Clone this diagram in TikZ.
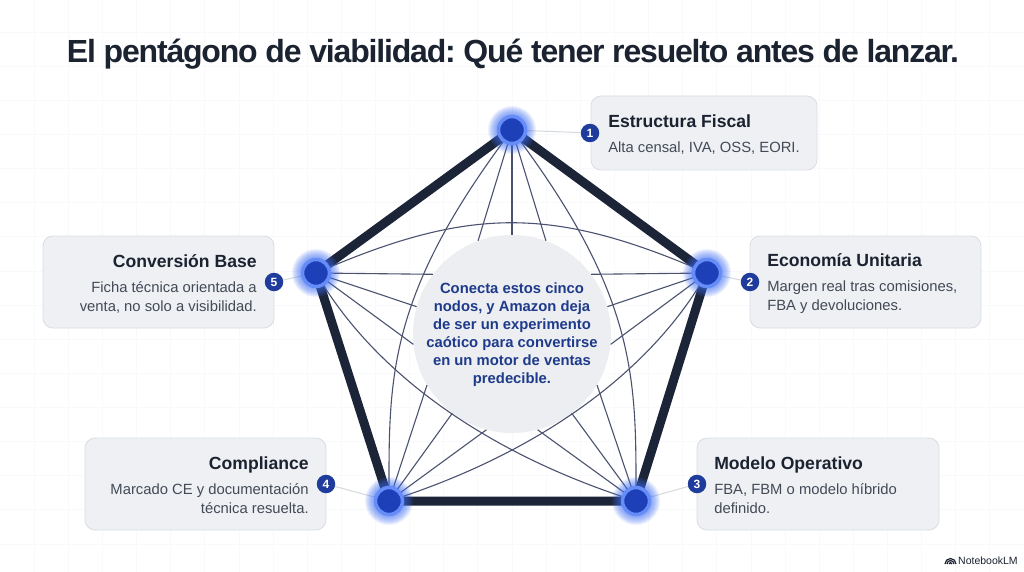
\documentclass[tikz,border=0pt]{standalone}
\usepackage{fontspec}
\setmainfont{Liberation Sans}
\frenchspacing
\definecolor{frame}{HTML}{1C2438}
\definecolor{thinline}{HTML}{4A5270}
\definecolor{leader}{HTML}{D6D9DE}
\definecolor{cardfill}{HTML}{EEF0F4}
\definecolor{cardline}{HTML}{D9DDE3}
\definecolor{hubfill}{HTML}{ECEEF1}
\definecolor{navy}{HTML}{1E3A8A}
\definecolor{badgeblue}{HTML}{1F3B9C}
\definecolor{core}{HTML}{1D3FB8}
\definecolor{halo}{HTML}{3F6FF5}
\definecolor{inktitle}{HTML}{1B2230}
\definecolor{inkbody}{HTML}{434A56}
\definecolor{paper}{HTML}{F8F9FA}
\tikzset{
  card/.style={draw=cardline,fill=cardfill,rounded corners=10pt,line width=0.8pt,inner sep=0pt},
  cardtext/.style={inner sep=0pt,yshift=-1.5pt,font=\fontsize{14.8}{19}\selectfont,text=inkbody},
  cardleft/.style={cardtext,align=left,anchor=west,xshift=17.5pt},
  cardright/.style={cardtext,align=right,anchor=east,xshift=-17.5pt},
  badge/.style={circle,fill=badgeblue,text=white,minimum size=18.5pt,inner sep=0pt,font=\fontsize{12}{12}\selectfont\bfseries},
  vertex/.style={circle,fill=core,draw=halo!80!white,line width=3.5pt,minimum size=27pt,inner sep=0pt},
  rim/.style={thinline,line width=1.1pt},
  edge/.style={frame,line width=9pt},
  leaderline/.style={leader,line width=1pt},
  gridline/.style={paper,line width=0.7pt},
}
\newcommand{\cardtitle}[1]{{\fontsize{17.6}{20}\selectfont\bfseries\color{inktitle}#1}\\[6pt]}
\begin{document}
\begin{tikzpicture}[x=1pt,y=-1pt]
  \useasboundingbox (0,0) rectangle (1024,572);
  \fill[white] (0,0) rectangle (1024,572);

  % Faint background grid
  \foreach \i in {1,...,29} \draw[gridline] ({\i*34.13},0) -- ({\i*34.13},572);
  \foreach \i in {0,...,16} \draw[gridline] (0,{32+\i*34.13}) -- (1024,{32+\i*34.13});

  % Title
  \node[font=\fontsize{32}{36}\selectfont\bfseries\addfontfeatures{LetterSpace=-3.7},text=inktitle] (title) at (513,54) {El pentágono de viabilidad: Qué tener resuelto antes de lanzar.};

  % Cards
  \node[card,minimum width=226pt,minimum height=74pt] (c1) at (704,133) {};
  \node[card,minimum width=231pt,minimum height=92pt] (c2) at (865.5,282) {};
  \node[card,minimum width=242pt,minimum height=92pt] (c3) at (818,484) {};
  \node[card,minimum width=241pt,minimum height=92pt] (c4) at (205.5,484) {};
  \node[card,minimum width=231pt,minimum height=92pt] (c5) at (158.5,282) {};
  \node[cardleft] (t1) at (c1.west) {\cardtitle{Estructura Fiscal}Alta censal, IVA, OSS, EORI.};
  \node[cardleft] (t2) at (c2.west) {\cardtitle{Economía Unitaria}Margen real tras comisiones,\\FBA y devoluciones.};
  \node[cardleft] (t3) at (c3.west) {\cardtitle{Modelo Operativo}FBA, FBM o modelo híbrido\\definido.};
  \node[cardright] (t4) at (c4.east) {\cardtitle{Compliance}Marcado CE y documentación\\técnica resuelta.};
  \node[cardright] (t5) at (c5.east) {\cardtitle{Conversión Base}Ficha técnica orientada a\\venta, no solo a visibilidad.};

  % Centre disc
  \node[circle,fill=hubfill,minimum size=198pt,inner sep=0pt] (hub) at (512,334) {};
  \node[align=center,text=navy,font=\fontsize{14.8}{18}\selectfont\bfseries] (hubtext) at (512,335) {Conecta estos cinco\\nodos, y Amazon deja\\de ser un experimento\\caótico para convertirse\\en un motor de ventas\\predecible.};

  % Corners
  \coordinate (p1) at (512,130);
  \coordinate (p2) at (707,273);
  \coordinate (p3) at (636,501);
  \coordinate (p4) at (389,501);
  \coordinate (p5) at (316,273);

  % Outer frame
  \draw[edge] (p1) -- (p2) -- (p3) -- (p4) -- (p5) -- cycle;

  % Spokes
  \foreach \a in {110,90,70} \draw[rim] (p1) -- (hub.\a);
  \foreach \a in {37,16,-6} \draw[rim] (p2) -- (hub.\a);
  \foreach \a in {329,307,285} \draw[rim] (p3) -- (hub.\a);
  \foreach \a in {211,233,255} \draw[rim] (p4) -- (hub.\a);
  \foreach \a in {143,164,186} \draw[rim] (p5) -- (hub.\a);

  % Curved star
  \draw[rim] (p1) .. controls (385,298) and (389,380) .. (p4);
  \draw[rim] (p1) .. controls (639,298) and (636,380) .. (p3);
  \draw[rim] (p5) .. controls (470,206) and (553,206) .. (p2);
  \draw[rim] (p5) .. controls (375,375) and (490,455) .. (p3);
  \draw[rim] (p2) .. controls (649,375) and (534,455) .. (p4);

  % Badges and leaders
  \node[badge] (b1) at (590,133) {1};
  \node[badge] (b2) at (750,282) {2};
  \node[badge] (b3) at (697,484) {3};
  \node[badge] (b4) at (326,484) {4};
  \node[badge] (b5) at (274,282) {5};
  \foreach \i in {1,...,5} \draw[leaderline] (p\i) -- (b\i);

  % Glow and nodes
  \foreach \i in {1,...,5} {
    \foreach \r in {15,16,...,24}
      \fill[halo,opacity=0.09] (p\i) circle (\r pt);
    \node[vertex] (n\i) at (p\i) {};
  }

  % Footer
  \node[anchor=west,inner sep=0pt,text=inktitle,font=\fontsize{10.5}{12}\selectfont] (brand) at (958,561) {NotebookLM};
  \foreach \r in {1.5,3.5,5.5}
    \draw[inktitle,line width=1.2pt] (950.5-\r,564) arc[start angle=180,end angle=0,radius=\r pt];
\end{tikzpicture}
\end{document}
